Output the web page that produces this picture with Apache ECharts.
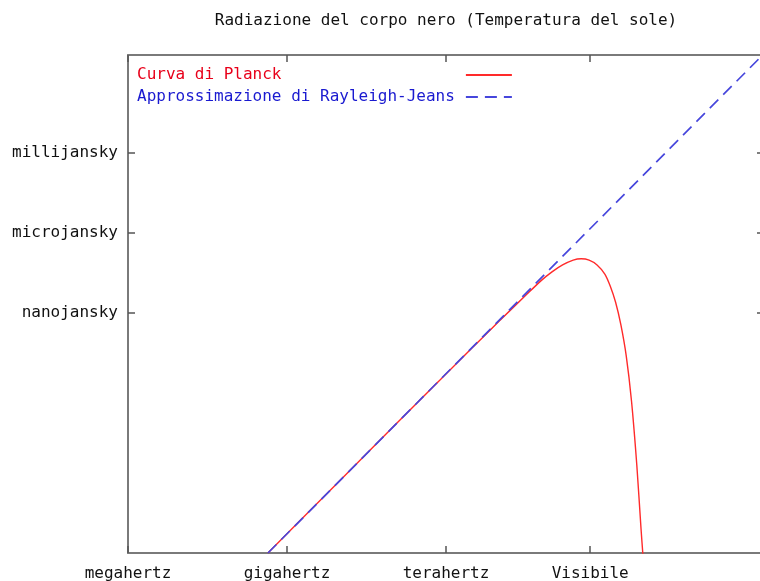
<!DOCTYPE html>
<html>
<head>
<meta charset="utf-8">
<script src="https://cdn.jsdelivr.net/npm/echarts@6/dist/echarts.min.js"></script>
<style>
html,body{margin:0;padding:0;background:#fff;}
#chart{width:760px;height:581px;}
</style>
</head>
<body>
<div id="chart"></div>
<script>
// Axis ticks (log10 of Hz and log10 of Jy)
const freqTickValues = [6, 9, 12, 14.72];
const freqTickLabels = ['megahertz', 'gigahertz', 'terahertz', 'Visibile'];
const fluxTickValues = [-3, -6, -9];
const fluxTickLabels = ['millijansky', 'microjansky', 'nanojansky'];

// Planck curve (log10 frequency, log10 flux)
const planckLogFreq = [8.64, 10, 11, 12, 12.5, 13, 13.5, 13.8, 14.0, 14.2, 14.4, 14.55, 14.7, 14.85, 15.0, 15.1, 15.2, 15.3, 15.4, 15.5, 15.6, 15.68, 15.72];
const planckLogFlux = [-18.0, -15.28, -13.28, -11.29, -10.30, -9.31, -8.35, -7.78, -7.46, -7.20, -7.02, -6.97, -7.02, -7.20, -7.55, -8.00, -8.60, -9.45, -10.60, -12.30, -14.70, -17.10, -18.20];

// Rayleigh-Jeans approximation
const rjLogFreq = [8.64, 18.0];
const rjLogFlux = [-18.0, 0.72];

const seriesNames = ['Curva di Planck', 'Approssimazione di Rayleigh-Jeans'];
const titleText = 'Radiazione del corpo nero (Temperatura del sole)';

const FONT = 'DejaVu Sans Mono';
const pad = (s, n) => s + ' '.repeat(Math.max(0, n - s.length));
const maxLen = Math.max(...seriesNames.map(s => s.length));

const chart = echarts.init(document.getElementById('chart'), null, {renderer: 'canvas'});

const axisLineStyle = {color: '#7a7a7a', width: 2};
const tickStyle = {color: '#555', width: 1.5};

function labelFor(values, labels) {
  return function (v) {
    for (let i = 0; i < values.length; i++) {
      if (Math.abs(values[i] - v) < 1e-6) return labels[i];
    }
    return '';
  };
}

const option = {
  backgroundColor: '#ffffff',
  animation: false,
  graphic: [{
    type: 'text',
    x: 446,
    y: 21,
    style: {
      text: titleText,
      font: '16px "' + FONT + '"',
      fill: '#111',
      textAlign: 'center',
      textVerticalAlign: 'middle'
    }
  }],
  legend: {
    orient: 'vertical',
    left: 132,
    top: 62,
    align: 'right',
    itemWidth: 46,
    itemHeight: 12,
    itemGap: 6,
    formatter: name => pad(name, maxLen),
    itemStyle: {opacity: 0},
    textStyle: {fontFamily: FONT, fontSize: 16, padding: [0, 6, 0, 0]},
    data: [
      {name: seriesNames[0], textStyle: {color: '#e8001a'}},
      {name: seriesNames[1], textStyle: {color: '#1a1ad0'}}
    ]
  },
  grid: {left: 128, top: 55, width: 636, height: 498, containLabel: false, outerBoundsMode: 'none'},
  xAxis: [{
    type: 'value', position: 'bottom', min: 6, max: 18,
    axisLine: {show: true, onZero: false, lineStyle: axisLineStyle},
    axisTick: {show: true, inside: true, length: 7, lineStyle: tickStyle, customValues: freqTickValues},
    axisLabel: {show: true, customValues: freqTickValues, formatter: labelFor(freqTickValues, freqTickLabels),
      fontFamily: FONT, fontSize: 16, color: '#111', margin: 13, showMinLabel: true},
    splitLine: {show: false}
  }, {
    type: 'value', position: 'top', min: 6, max: 18,
    axisLine: {show: true, onZero: false, lineStyle: axisLineStyle},
    axisTick: {show: true, inside: true, length: 7, lineStyle: tickStyle, customValues: freqTickValues},
    axisLabel: {show: false},
    splitLine: {show: false}
  }],
  yAxis: [{
    type: 'value', position: 'left', min: -18, max: 0.67,
    axisLine: {show: true, onZero: false, lineStyle: axisLineStyle},
    axisTick: {show: true, inside: true, length: 7, lineStyle: tickStyle, customValues: fluxTickValues},
    axisLabel: {show: true, customValues: fluxTickValues, formatter: labelFor(fluxTickValues, fluxTickLabels),
      fontFamily: FONT, fontSize: 16, color: '#111', margin: 10},
    splitLine: {show: false}
  }, {
    type: 'value', position: 'right', min: -18, max: 0.67,
    axisLine: {show: true, onZero: false, lineStyle: axisLineStyle},
    axisTick: {show: true, inside: true, length: 7, lineStyle: tickStyle, customValues: fluxTickValues},
    axisLabel: {show: false},
    splitLine: {show: false}
  }],
  series: [{
    name: seriesNames[0],
    type: 'line',
    xAxisIndex: 0, yAxisIndex: 0,
    showSymbol: false, symbol: 'none',
    smooth: 0.25,
    clip: true,
    lineStyle: {color: '#ff2a2a', width: 1.4},
    itemStyle: {color: '#ff2a2a'},
    data: planckLogFreq.map((x, i) => [x, planckLogFlux[i]]),
    z: 3
  }, {
    name: seriesNames[1],
    type: 'line',
    xAxisIndex: 0, yAxisIndex: 0,
    showSymbol: false, symbol: 'none',
    clip: true,
    lineStyle: {color: '#4646dc', width: 1.7, type: [12, 7]},
    itemStyle: {color: '#4646dc'},
    data: rjLogFreq.map((x, i) => [x, rjLogFlux[i]]),
    z: 4
  }]
};
chart.setOption(option);
</script>
</body>
</html>
